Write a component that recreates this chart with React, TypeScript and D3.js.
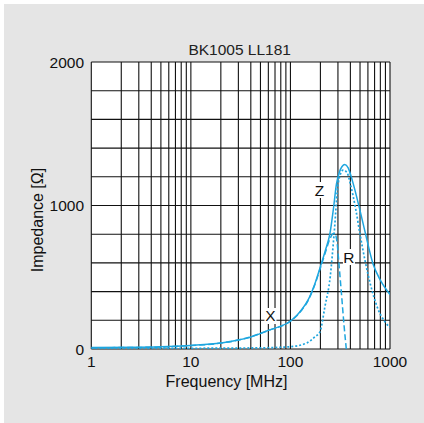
import React from "react";
import * as d3 from "d3";

const title = "BK1005 LL181";
const xTicks = [1, 10, 100, 1000];
const yTicks = [0, 1000, 2000];

// Z (solid)
const zFreq = [1, 3, 5, 10, 20, 30, 36, 60, 100, 115, 130, 150, 175, 200, 225, 250, 270, 290, 310, 330, 352, 380, 420, 490, 560, 677, 800, 1000];
const zVal = [10, 12, 15, 25, 42, 63, 74, 130, 195, 232, 275, 340, 450, 574, 690, 810, 975, 1150, 1232, 1272, 1285, 1262, 1170, 990, 820, 590, 480, 380];

// X (dashed)
const xFreq = [1, 3, 5, 10, 20, 30, 60, 100, 115, 130, 150, 175, 200, 225, 250, 270, 282, 293, 310, 326, 345, 364];
const xVal = [9, 11, 14, 24, 41, 62, 129, 194, 230, 272, 336, 445, 565, 675, 770, 805, 800, 750, 560, 380, 170, 0];

// R (dotted)
const rFreq = [1, 10, 50, 100, 146, 177, 198, 222, 251, 275, 302, 339, 370, 400, 454, 500, 560, 628, 761, 900, 1000];
const rVal = [3, 5, 8, 16, 42, 86, 120, 295, 504, 808, 1157, 1247, 1230, 1150, 969, 800, 620, 465, 275, 185, 150];

const labels = [
  { text: "Z", f: 196, v: 1108 },
  { text: "R", f: 387, v: 641 },
  { text: "X", f: 63, v: 230 },
];

const W = 424;
const H = 423;
const L = 91.3, R = 390, T = 62, B = 349;
const BLUE = "#1ea6df";
const FONT = "'Liberation Sans', Arial, Helvetica, sans-serif";

export default function App() {
  const x = d3.scaleLog().domain([1, 1000]).range([L, R]);
  const y = d3.scaleLinear().domain([0, 2000]).range([B, T]);

  const vLines: number[] = [];
  for (let k = 0; k < 3; k++) {
    for (let m = 1; m <= 9; m++) vLines.push(m * Math.pow(10, k));
  }
  vLines.push(1000);
  const hLines = d3.range(0, 2001, 200);

  const mk = (fs: number[], vs: number[]) =>
    d3
      .line<number>()
      .x((_, i) => x(fs[i]))
      .y((_, i) => y(vs[i]))
      .curve(d3.curveMonotoneX)(vs) || "";

  return (
    <svg width={W} height={H} style={{ position: "absolute", left: 0, top: 0 }} fontFamily={FONT}>
      <rect x={0} y={0} width={W} height={H} fill="#ffffff" />
      <rect x={4} y={4} width={W - 4} height={H - 4} fill="#e5e5e5" />
      <rect x={L} y={T} width={R - L} height={B - T} fill="#ffffff" />
      <defs>
        <clipPath id="plot">
          <rect x={L} y={T - 1} width={R - L} height={B - T + 1} />
        </clipPath>
      </defs>
      {vLines.map((f, i) => (
        <line key={"v" + i} x1={x(f)} x2={x(f)} y1={T} y2={B} stroke="#111" strokeWidth={1.1} />
      ))}
      {hLines.map((v, i) => (
        <line key={"h" + i} x1={L} x2={R} y1={y(v)} y2={y(v)} stroke="#111" strokeWidth={1.1} />
      ))}
      <g clipPath="url(#plot)" fill="none" stroke={BLUE} strokeWidth={1.5}>
        <path d={mk(rFreq, rVal)} strokeDasharray="2,2" strokeWidth={1.7} />
        <path d={mk(xFreq, xVal)} strokeDasharray="6,3" />
        <path d={mk(zFreq, zVal)} />
      </g>
      {labels.map((l, i) => (
        <g key={"l" + i}>
          <rect x={x(l.f) - 6} y={y(l.v) - 8} width={12} height={16} fill="#ffffff" />
          <text x={x(l.f)} y={y(l.v) + 5.5} fontSize={15.5} textAnchor="middle" fill="#111">
            {l.text}
          </text>
        </g>
      ))}
      <text x={239.7} y={54.5} fontSize={15.5} textAnchor="middle" fill="#222">
        {title}
      </text>
      {yTicks.map((v) => (
        <text key={"yt" + v} x={84} y={y(v) + 5.5} fontSize={15.5} textAnchor="end" fill="#111">
          {v}
        </text>
      ))}
      {xTicks.map((f) => (
        <text key={"xt" + f} x={x(f)} y={367} fontSize={15.5} textAnchor="middle" fill="#111">
          {f}
        </text>
      ))}
      <text x={226.5} y={387} fontSize={16} textAnchor="middle" fill="#111">
        Frequency [MHz]
      </text>
      <text transform="translate(43,220) rotate(-90)" fontSize={16} textAnchor="middle" fill="#111">
        Impedance [Ω]
      </text>
    </svg>
  );
}
